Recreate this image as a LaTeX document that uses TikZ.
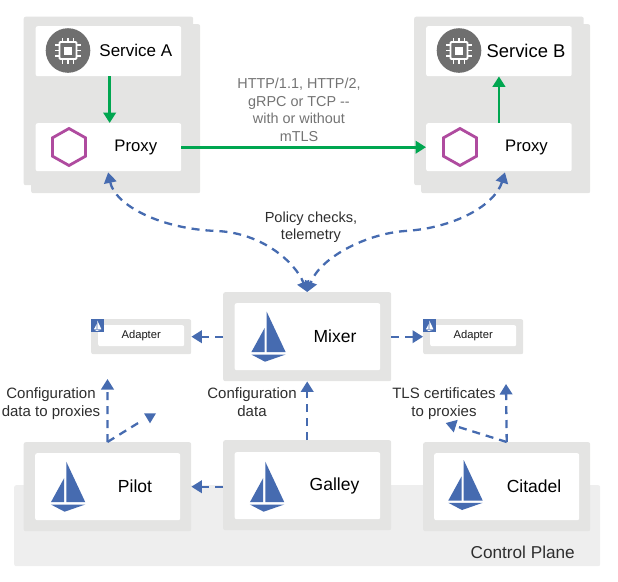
\documentclass[tikz,border=0pt]{standalone}
\usepackage{fontspec}
\setmainfont{Liberation Sans}
\usetikzlibrary{arrows.meta}
\definecolor{cardgray}{HTML}{E4E4E3}
\definecolor{planegray}{HTML}{EEEEEE}
\definecolor{dashblue}{HTML}{466BB0}
\definecolor{arrowgreen}{HTML}{00A650}
\definecolor{hexpurple}{HTML}{AF4B9F}
\definecolor{chipgray}{HTML}{6F6F6F}
\newcommand{\fsz}[1]{\fontsize{#1}{#1}\selectfont}
\tikzset{
  x=1pt,y=-1pt,
  card/.style={fill=cardgray,draw=none,rounded corners=2pt,inner sep=0pt,anchor=north west},
  panel/.style={fill=white,draw=none,rounded corners=2pt,inner sep=0pt,text=black!90},
  big/.style={font=\fsz{17.5}},
  label/.style={align=center,inner sep=0pt,text=black!82,font=\fsz{15},text depth=0pt},
  thin label/.style={align=center,inner sep=0pt,text=black!55,font=\fsz{14.4}},
  greenline/.style={draw=arrowgreen,line width=2.6pt,-{Triangle[length=10.5pt,width=12.5pt]}},
  blueline/.style={draw=dashblue,line width=2.3pt,dash pattern=on 8pt off 6pt,-{Triangle[length=10.5pt,width=12.5pt]}},
  bluepair/.style={blueline,{Triangle[length=10.5pt,width=12.5pt]}-{Triangle[length=10.5pt,width=12.5pt]}},
  pics/sail/.style={code={
    \fill[#1] (0,0) -- (19,40.5) -- (0,40.5) -- cycle;
    \fill[#1] (-2.2,16.5) -- (-2.2,40.5) -- (-15.4,40.5) -- cycle;
    \fill[#1] (-15.4,42.8) -- (19,42.8) -- (-1.7,50) -- cycle;
  }},
  pics/smallsail/.style={code={
    \fill[#1] (0,0) -- (4,8.5) -- (0,8.5) -- cycle;
    \fill[#1] (-.6,3.5) -- (-.6,8.5) -- (-3.2,8.5) -- cycle;
    \fill[#1] (-3.2,9.1) -- (4,9.1) -- (-.4,10.5) -- cycle;
  }},
  pics/chip/.style={code={
    \fill[chipgray] (0,0) circle (22.3);
    \draw[white,line width=1.8pt,rounded corners=1pt] (-8.5,-8.5) rectangle (8.5,8.5);
    \fill[white] (-4,-4) rectangle (4,4);
    \foreach \p in {-5.5,0,5.5}{
      \draw[white,line width=1.5pt] (\p,-8.5) -- (\p,-13) (\p,8.5) -- (\p,13) (-8.5,\p) -- (-13,\p) (8.5,\p) -- (13,\p);
    }
  }},
  pics/hexa/.style={code={
    \draw[hexpurple,line width=2.8pt,line join=miter] (0,-18.5) -- (16.5,-9.2) -- (16.5,9.2) -- (0,18.5) -- (-16.5,9.2) -- (-16.5,-9.2) -- cycle;
  }}
}
\begin{document}
\begin{tikzpicture}
\useasboundingbox (0,0) rectangle (618,581);
% control plane
\node[card,fill=planegray,minimum width=586pt,minimum height=81pt] (plane) at (14,485) {};
\node[label,font=\fsz{17.2},anchor=east] (planelabel) at (575,552) {Control Plane};
% workload A
\node[card,minimum width=169pt,minimum height=169pt] (backA) at (31,24) {};
\node[card,minimum width=169.5pt,minimum height=168.5pt] (frontA) at (23.5,16.5) {};
\node[panel,anchor=north west,minimum width=145.5pt,minimum height=50pt] (svcA) at (35.5,26) {};
\node[panel,anchor=north west,minimum width=145.5pt,minimum height=48pt] (proxyA) at (35.5,123) {};
\pic at (68,50.5) {chip};
\pic at (69,147) {hexa};
\node[inner sep=0pt,font=\fsz{17}] (svcAtext) at (135.8,50.5) {Service A};
\node[inner sep=0pt,font=\fsz{16.7}] (proxyAtext) at (135.8,147) {Proxy};
% workload B
\node[card,minimum width=169pt,minimum height=169pt] (backB) at (421,24) {};
\node[card,minimum width=169.5pt,minimum height=168.5pt] (frontB) at (414,16.5) {};
\node[panel,anchor=north west,minimum width=145.5pt,minimum height=50pt] (svcB) at (426,26) {};
\node[panel,anchor=north west,minimum width=145.5pt,minimum height=48pt] (proxyB) at (426,123) {};
\pic at (459,50.5) {chip};
\pic at (460,147) {hexa};
\node[inner sep=0pt,font=\fsz{18.4}] (svcBtext) at (526,50.5) {Service B};
\node[inner sep=0pt,font=\fsz{16.7}] (proxyBtext) at (526.5,147) {Proxy};
% mixer
\node[card,minimum width=168pt,minimum height=89pt] (mixer) at (223,292) {};
\node[panel,anchor=north west,minimum width=145.5pt,minimum height=67pt] (mixerin) at (234.5,303) {};
\pic at (266.7,311.7) {sail=dashblue};
\node[inner sep=0pt,big] (mixertext) at (335,336.5) {Mixer};
% adapters
\node[card,minimum width=100pt,minimum height=35pt] (adL) at (91,319) {};
\node[panel,anchor=north west,minimum width=86pt,minimum height=21pt,font=\fsz{11.2}] (adLin) at (98,325) {Adapter};
\node[fill=dashblue,inner sep=0pt,minimum size=13pt,anchor=north west] (badgeL) at (91,319) {};
\pic at (97.3,320.5) {smallsail=white};
\node[card,minimum width=100pt,minimum height=35pt] (adR) at (423,319) {};
\node[panel,anchor=north west,minimum width=86pt,minimum height=21pt,font=\fsz{11.2}] (adRin) at (430,325) {Adapter};
\node[fill=dashblue,inner sep=0pt,minimum size=13pt,anchor=north west] (badgeR) at (423,319) {};
\pic at (429.3,320.5) {smallsail=white};
% pilot
\node[card,minimum width=167.5pt,minimum height=89pt] (pilot) at (23.5,442) {};
\node[panel,anchor=north west,minimum width=145pt,minimum height=67pt] (pilotin) at (35,453) {};
\pic at (66.3,461.7) {sail=dashblue};
\node[inner sep=0pt,big] (pilottext) at (135,486.5) {Pilot};
% galley
\node[card,minimum width=168pt,minimum height=90pt] (galley) at (223,440) {};
\node[panel,anchor=north west,minimum width=145.5pt,minimum height=67pt] (galleyin) at (234.5,452) {};
\pic at (265.3,461.7) {sail=dashblue};
\node[inner sep=0pt,big] (galleytext) at (334.5,485.5) {Galley};
% citadel
\node[card,minimum width=167pt,minimum height=89pt] (citadel) at (423,442) {};
\node[panel,anchor=north west,minimum width=145pt,minimum height=67pt] (citadelin) at (434,453) {};
\pic at (463.7,460) {sail=dashblue};
\node[inner sep=0pt,big] (citadeltext) at (534,486.5) {Citadel};
% labels
\node[thin label] (http) at (299,110) {HTTP/1.1, HTTP/2,\\[3.2pt]gRPC or TCP {-}{-}\\[3.2pt]with or without\\[3.2pt]mTLS};
\node[label,font=\fsz{14.6}] (policy) at (311,226) {Policy checks,\\[2.8pt]telemetry};
\node[label] (cfgP) at (51,402) {Configuration\\[2.6pt]data to proxies};
\node[label] (cfgG) at (252,402) {Configuration\\[2.6pt]data};
\node[label] (tls) at (444,402) {TLS certificates\\[2.6pt]to proxies};
% free ends
\coordinate (pilotup) at (107.5,379);
\coordinate (pilotdiag) at (143,420);
\coordinate (citup) at (506,384);
\coordinate (citdiag) at (445.7,423);
\coordinate (leftmid) at (217,231);
\coordinate (rightmid) at (405,231);
% green connectors
\draw[greenline] ([xshift=1.2pt]svcA.south) -- ([xshift=1.2pt]proxyA.north);
\draw[greenline] (proxyA.east) -- (proxyB.west);
\draw[greenline] (proxyB.north) -- (svcB.south);
% blue connectors
\draw[bluepair] ([xshift=-.3pt,yshift=-1pt]proxyA.south) .. controls (115,205) and (160,229) .. (leftmid) .. controls (262,233) and (295,262) .. (mixer.north);
\draw[bluepair] ([xshift=6pt,yshift=-1pt]proxyB.south) .. controls (495,205) and (455,228) .. (rightmid) .. controls (365,234) and (320,258) .. (mixer.north);
\draw[blueline] (mixer.west) -- (adL.east);
\draw[blueline] (mixer.east) -- (adR.west);
\draw[blueline] (galley.north) -- (mixer.south);
\draw[blueline] (galley.west |- pilot.east) -- (pilot.east);
\draw[blueline] (pilot.north) -- (pilotup);
\draw[blueline,-] (pilot.north) -- (pilotdiag);
\fill[dashblue] (144,413.3) -- (156,413.3) -- (150,423.3) -- cycle;
\draw[blueline] (citadel.north) -- (citup);
\draw[blueline] (citadel.north) -- (citdiag);
\end{tikzpicture}
\end{document}
